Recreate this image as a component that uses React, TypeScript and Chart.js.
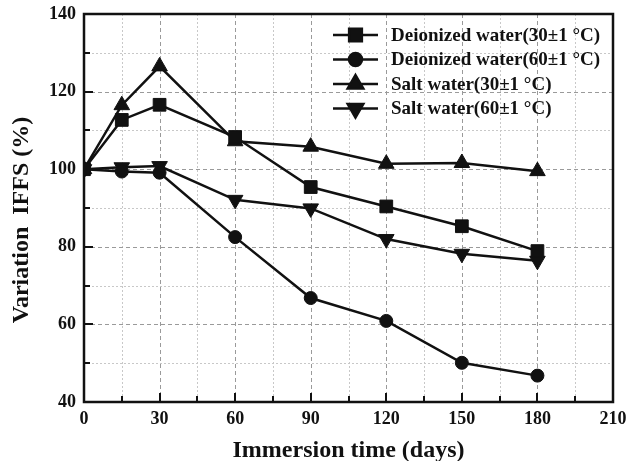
import React, { useEffect, useRef } from "react";
import { Chart, registerables } from "chart.js";
import { drawPoint } from "chart.js/helpers";

Chart.register(...registerables);

const days = [0, 15, 30, 60, 90, 120, 150, 180];
const deionized30 = [100, 112.7, 116.6, 108.3, 95.4, 90.4, 85.3, 78.9];
const deionized60 = [100, 99.4, 99.1, 82.5, 66.8, 60.9, 50.1, 46.8];
const salt30 = [100, 116.5, 126.5, 107.2, 105.8, 101.4, 101.6, 99.5];
const salt60 = [100, 100.5, 100.8, 92.1, 89.9, 82.0, 78.2, 76.4];
const seriesLabels = [
  "Deionized water(30±1 °C)",
  "Deionized water(60±1 °C)",
  "Salt water(30±1 °C)",
  "Salt water(60±1 °C)",
];
const xTitle = "Immersion time (days)";
const yTitle = "Variation  IFFS (%)";

const FONT = "'Liberation Serif', 'Times New Roman', serif";

const framePlugin = {
  id: "frame",
  beforeDatasetsDraw(chart: any) {
    const { ctx, chartArea: a, scales } = chart;
    const xs = scales.x;
    const ys = scales.y;
    ctx.save();
    for (let v = 15; v < 210; v += 15) {
      const px = Math.round(xs.getPixelForValue(v)) + 0.5;
      const major = v % 30 === 0;
      ctx.beginPath();
      ctx.strokeStyle = major ? "#9a9a9a" : "#c8c8c8";
      ctx.lineWidth = 1;
      ctx.setLineDash(major ? [4, 3] : [2, 2]);
      ctx.moveTo(px, a.top);
      ctx.lineTo(px, a.bottom);
      ctx.stroke();
    }
    for (let v = 50; v < 140; v += 10) {
      const py = Math.round(ys.getPixelForValue(v)) + 0.5;
      const major = v % 20 === 0;
      ctx.beginPath();
      ctx.strokeStyle = major ? "#9a9a9a" : "#c8c8c8";
      ctx.lineWidth = 1;
      ctx.setLineDash(major ? [4, 3] : [2, 2]);
      ctx.moveTo(a.left, py);
      ctx.lineTo(a.right, py);
      ctx.stroke();
    }
    ctx.setLineDash([]);
    ctx.strokeStyle = "#111";
    ctx.lineWidth = 2;
    for (let v = 15; v < 210; v += 15) {
      const px = Math.round(xs.getPixelForValue(v));
      const len = v % 30 === 0 ? 9 : 6;
      ctx.beginPath();
      ctx.moveTo(px, a.bottom);
      ctx.lineTo(px, a.bottom - len);
      ctx.stroke();
    }
    for (let v = 50; v < 140; v += 10) {
      const py = Math.round(ys.getPixelForValue(v));
      const len = v % 20 === 0 ? 9 : 6;
      ctx.beginPath();
      ctx.moveTo(a.left, py);
      ctx.lineTo(a.left + len, py);
      ctx.stroke();
    }
    ctx.lineWidth = 2.5;
    ctx.strokeRect(a.left, a.top, a.right - a.left, a.bottom - a.top);
    ctx.restore();
  },
  afterDraw(chart: any) {
    const { ctx, chartArea: a } = chart;
    ctx.save();
    ctx.fillStyle = "#111";
    ctx.font = `bold 24px ${FONT}`;
    ctx.textAlign = "center";
    ctx.textBaseline = "alphabetic";
    ctx.fillText(xTitle, (a.left + a.right) / 2, 456.5);
    ctx.save();
    ctx.translate(28, (a.top + a.bottom) / 2 + 12);
    ctx.rotate(-Math.PI / 2);
    ctx.fillText(yTitle, 0, 0);
    ctx.restore();
    chart.data.datasets.forEach((ds: any, i: number) => {
      const y = 35 + i * 24.5;
      ctx.beginPath();
      ctx.strokeStyle = "#111";
      ctx.lineWidth = 2.5;
      ctx.moveTo(333, y);
      ctx.lineTo(378, y);
      ctx.stroke();
      ctx.fillStyle = "#111";
      drawPoint(
        ctx,
        {
          pointStyle: ds.pointStyle,
          rotation: ds.pointRotation || 0,
          radius: ds.pointRadius,
          borderWidth: 1,
        },
        355.5,
        y
      );
      ctx.fillStyle = "#111";
      ctx.font = `bold 19px ${FONT}`;
      ctx.textAlign = "left";
      ctx.textBaseline = "middle";
      ctx.fillText(ds.label, 391, y + 1);
    });
    ctx.restore();
  },
};

const zeroPad = (s: any) => {
  s.paddingLeft = 0;
  s.paddingRight = 0;
  s.paddingTop = 0;
  s.paddingBottom = 0;
};

export default function App() {
  const ref = useRef<HTMLCanvasElement>(null);
  useEffect(() => {
    document.body.style.margin = "0";
    const mk = (label: string, data: number[], style: string, r: number, rot = 0) => ({
      label,
      data: days.map((d, i) => ({ x: d, y: data[i] })),
      borderColor: "#111",
      backgroundColor: "#111",
      pointBackgroundColor: "#111",
      pointBorderColor: "#111",
      borderWidth: 2.5,
      pointStyle: style,
      pointRadius: r,
      pointRotation: rot,
      pointBorderWidth: 1,
      tension: 0,
    });
    const chart = new Chart(ref.current!, {
      type: "line",
      data: {
        datasets: [
          mk(seriesLabels[0], deionized30, "rect", 9),
          mk(seriesLabels[1], deionized60, "circle", 6.5),
          mk(seriesLabels[2], salt30, "triangle", 9),
          mk(seriesLabels[3], salt60, "triangle", 9, 180),
        ] as any,
      },
      options: {
        animation: false,
        responsive: false,
        layout: { padding: { top: 14, right: 15, left: 0, bottom: 0 } },
        plugins: { legend: { display: false }, tooltip: { enabled: false } },
        scales: {
          x: {
            type: "linear",
            min: 0,
            max: 210,
            grid: { display: false, drawTicks: false },
            border: { display: false },
            ticks: {
              stepSize: 15,
              autoSkip: false,
              maxRotation: 0,
              padding: 7,
              color: "#111",
              font: { family: FONT, size: 18, weight: "bold" },
              callback: (v: any) => (Number(v) % 30 === 0 ? String(v) : ""),
            },
            title: { display: false },
            afterFit: (s: any) => {
              s.height = 59;
              zeroPad(s);
            },
          },
          y: {
            type: "linear",
            min: 40,
            max: 140,
            grid: { display: false, drawTicks: false },
            border: { display: false },
            ticks: {
              stepSize: 10,
              autoSkip: false,
              padding: 8,
              color: "#111",
              font: { family: FONT, size: 18, weight: "bold" },
              callback: (v: any) => (Number(v) % 20 === 0 ? String(v) : ""),
            },
            title: { display: false },
            afterFit: (s: any) => {
              s.width = 84;
              zeroPad(s);
            },
          },
        },
      } as any,
      plugins: [framePlugin],
    });
    return () => chart.destroy();
  }, []);
  return (
    <div style={{ position: "fixed", left: 0, top: 0, width: 628, height: 461, background: "#fff" }}>
      <canvas ref={ref} width={628} height={461} style={{ width: 628, height: 461 }} />
    </div>
  );
}
